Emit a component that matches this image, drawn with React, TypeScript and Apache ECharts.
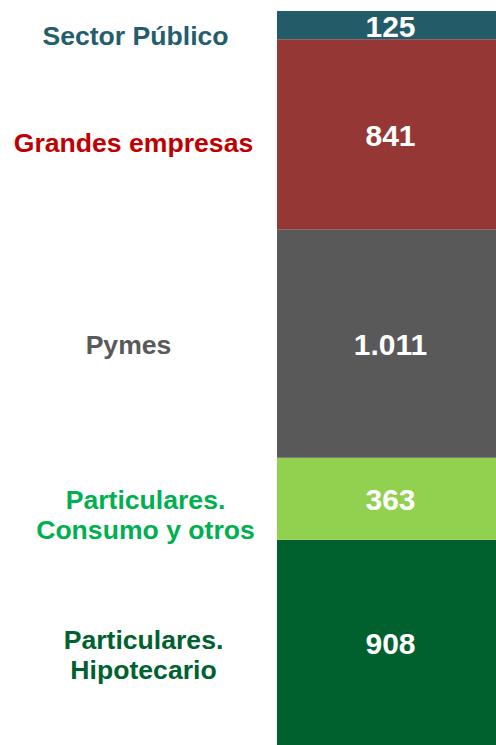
import React, { useEffect, useRef } from "react";
import * as echarts from "echarts";

// Stack order from bottom to top
const categories = [
  "Particulares.\nHipotecario",
  "Particulares.\nConsumo y otros",
  "Pymes",
  "Grandes empresas",
  "Sector Público",
];
const values = [908, 363, 1011, 841, 125];
const valueLabels = ["908", "363", "1.011", "841", "125"];

const barColors = ["#00612E", "#92D050", "#595959", "#953735", "#235B69"];
const textColors = ["#006130", "#00B050", "#595959", "#C00000", "#245D6C"];
const leftLabelOffsets: [number, number][] = [
  [5, 13],
  [7, 16],
  [-10, 1],
  [-5, 9],
  [-3, 11],
];
const valueLabelOffsets: [number, number][] = [
  [4, 1],
  [4, 1],
  [4, 1],
  [4, 1],
  [4, 1],
];

const total = values.reduce((a, b) => a + b, 0);
const FONT = "'Liberation Sans', Arial, sans-serif";

export default function App() {
  const ref = useRef<HTMLDivElement>(null);
  useEffect(() => {
    if (!ref.current) return;
    const chart = echarts.init(ref.current, null, { renderer: "svg" });
    const rightSeries = values.map((v, i) => ({
      type: "bar",
      name: categories[i],
      xAxisIndex: 1,
      yAxisIndex: 1,
      stack: "right",
      barWidth: "100%",
      data: [v],
      itemStyle: { color: barColors[i] },
      label: {
        show: true,
        position: "inside",
        formatter: () => valueLabels[i],
        color: "#FFFFFF",
        fontFamily: FONT,
        fontWeight: "bold",
        fontSize: 30,
        offset: valueLabelOffsets[i],
      },
    }));
    const leftSeries = values.map((v, i) => ({
      type: "bar",
      name: categories[i] + "_label",
      xAxisIndex: 0,
      yAxisIndex: 0,
      stack: "left",
      barWidth: "100%",
      data: [v],
      itemStyle: { color: "transparent" },
      label: {
        show: true,
        position: "inside",
        formatter: () => categories[i],
        color: textColors[i],
        fontFamily: FONT,
        fontWeight: "bold",
        fontSize: 26.6,
        lineHeight: 30,
        align: "center",
        offset: leftLabelOffsets[i],
      },
    }));
    chart.setOption({
      animation: false,
      grid: [
        { left: 0, width: 277, top: 11, height: 738 },
        { left: 277, width: 219, top: 11, height: 738 },
      ],
      xAxis: [
        { type: "category", gridIndex: 0, data: [""], show: false },
        { type: "category", gridIndex: 1, data: [""], show: false },
      ],
      yAxis: [
        { type: "value", gridIndex: 0, min: 0, max: total, show: false },
        { type: "value", gridIndex: 1, min: 0, max: total, show: false },
      ],
      series: [...rightSeries, ...leftSeries],
    });
    return () => chart.dispose();
  }, []);
  return (
    <div
      ref={ref}
      style={{
        position: "fixed",
        left: 0,
        top: 0,
        width: 496,
        height: 745,
        background: "#FFFFFF",
      }}
    />
  );
}
